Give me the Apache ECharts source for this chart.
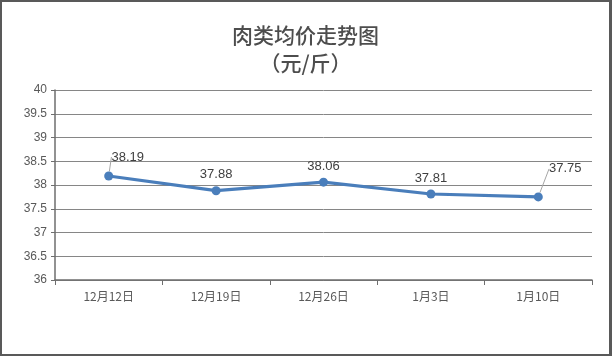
<!DOCTYPE html>
<html><head><meta charset="utf-8">
<script src="https://cdn.jsdelivr.net/npm/echarts@6/dist/echarts.min.js"></script>
<style>html,body{margin:0;padding:0;background:#fff}#c{width:612px;height:356px;box-sizing:border-box;border:2px solid #595959;border-right-width:3px;}</style>
</head><body><div id="c"></div>
<script>
const titleText = '肉类均价走势图';
const subText = '（元/斤）';
const categories = ['12月12日','12月19日','12月26日','1月3日','1月10日'];
const prices = [38.19, 37.88, 38.06, 37.81, 37.75];
const yTicks = [36, 36.5, 37, 37.5, 38, 38.5, 39, 39.5, 40];

const moved = {0: [19, -3], 4: [27, -12]};
const chart = echarts.init(document.getElementById('c'), null, {renderer: 'canvas'});
chart.setOption({
  animation: false,
  title: {
    text: titleText + '\n' + subText,
    left: 'center', top: 14,
    textStyle: {fontFamily: 'Noto Sans CJK SC', fontSize: 21, fontWeight: 500, color: '#4d4d4d', lineHeight: 28}
  },
  grid: {left: 53, right: 17, top: 88, bottom: 74},
  xAxis: {
    type: 'category', data: categories, boundaryGap: true,
    axisLine: {lineStyle: {color: '#6e6e6e', width: 1.5}},
    axisTick: {show: true, length: 5, alignWithLabel: false, lineStyle: {color: '#6e6e6e'}},
    axisLabel: {color: '#595959', fontSize: 12, margin: 10, fontFamily: 'Noto Sans CJK SC'}
  },
  yAxis: {
    type: 'value', min: yTicks[0], max: yTicks[yTicks.length - 1], interval: 0.5,
    axisLine: {show: true, lineStyle: {color: '#6e6e6e', width: 1.5}},
    axisTick: {show: true, length: 4, inside: false, lineStyle: {color: '#6e6e6e'}},
    axisLabel: {color: '#595959', fontSize: 12, margin: 8, fontFamily: 'Liberation Sans'},
    splitLine: {lineStyle: {color: '#868686', width: 1}}
  },
  series: [{
    type: 'line',
    data: prices.map((v, i) => moved[i] ? {value: v, labelLine: {show: true}} : {value: v}),
    symbol: 'circle', symbolSize: 9,
    lineStyle: {color: '#4a7ebb', width: 3.2},
    itemStyle: {color: '#4a7ebb'},
    label: {show: true, position: 'top', color: '#404040', fontSize: 13, fontFamily: 'Liberation Sans'},
    labelLine: {show: false, lineStyle: {color: '#a6a6a6', width: 1}},
    labelLayout: function (p) {
      const m = moved[p.dataIndex];
      return m ? {dx: m[0], dy: m[1]} : {};
    }
  }]
});
</script></body></html>
